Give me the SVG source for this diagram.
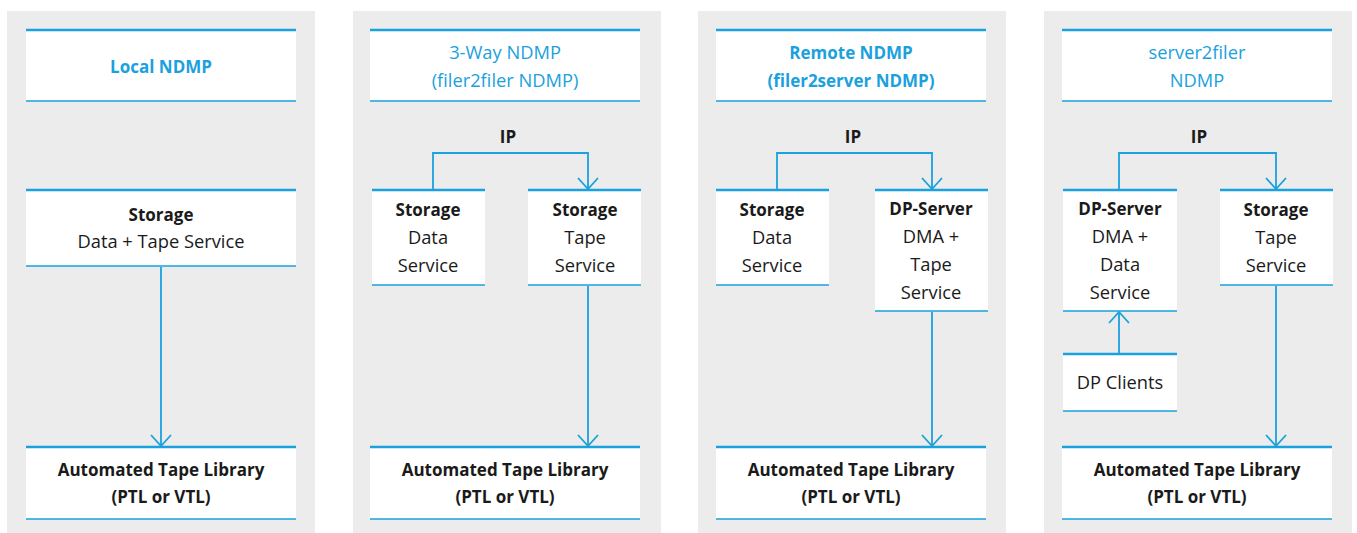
<svg xmlns="http://www.w3.org/2000/svg" width="1357" height="533" viewBox="0 0 1357 533">
<style>
.panel{fill:#ebeceb}
.box{fill:#ffffff}
.top{stroke:#1ba1dd;stroke-width:2.5}
.bot{stroke:#1ba1dd;stroke-width:1.5}
text{font-family:"Open Sans","Noto Sans","Liberation Sans",sans-serif;font-size:18.3px;text-anchor:middle;fill:#1a1a1a}
.b{font-weight:bold;font-size:17px}
.h{fill:#1ba1dd}
.conn{fill:none;stroke:#1ba1dd;stroke-width:1.8}
</style>
<defs>
<marker id="arr" viewBox="0 0 13 22" refX="12" refY="11" markerWidth="13" markerHeight="22" markerUnits="userSpaceOnUse" orient="auto-start-reverse">
<path d="M1,1 L12,11 L1,21" fill="none" stroke="#1ba1dd" stroke-width="1.8"/>
</marker>
</defs>
<rect class="panel" x="7" y="11" width="308" height="522"/>
<rect class="panel" x="353" y="11" width="308" height="522"/>
<rect class="panel" x="698" y="11" width="308" height="522"/>
<rect class="panel" x="1044" y="11" width="308" height="522"/>

<!-- Panel 1 -->
<g id="p1-header"><rect class="box" x="26" y="29" width="270" height="72"/><line class="top" x1="26" y1="30" x2="296" y2="30"/><line class="bot" x1="26" y1="101" x2="296" y2="101"/><text class="b h" x="161" y="73">Local NDMP</text></g>
<g id="p1-storage"><rect class="box" x="26" y="189" width="270" height="77"/><line class="top" x1="26" y1="190" x2="296" y2="190"/><line class="bot" x1="26" y1="266" x2="296" y2="266"/><text class="b" x="161" y="221">Storage</text><text x="161" y="248">Data + Tape Service</text></g>
<g id="p1-library"><rect class="box" x="26" y="446" width="270" height="73"/><line class="top" x1="26" y1="447" x2="296" y2="447"/><line class="bot" x1="26" y1="519" x2="296" y2="519"/><text class="b" x="161" y="476">Automated Tape Library</text><text class="b" x="161" y="503">(PTL or VTL)</text></g>

<!-- Panel 2 -->
<g id="p2-header"><rect class="box" x="370" y="29" width="270" height="72"/><line class="top" x1="370" y1="30" x2="640" y2="30"/><line class="bot" x1="370" y1="101" x2="640" y2="101"/><text class="h" x="505" y="59">3-Way NDMP</text><text class="h" x="505" y="87">(filer2filer NDMP)</text></g>
<g id="p2-ip"><text class="b" x="508" y="143">IP</text></g>
<g id="p2-storage-data"><rect class="box" x="372" y="189" width="113" height="96"/><line class="top" x1="372" y1="190" x2="485" y2="190"/><line class="bot" x1="372" y1="285" x2="485" y2="285"/><text class="b" x="428" y="216">Storage</text><text x="428" y="244">Data</text><text x="428" y="272">Service</text></g>
<g id="p2-storage-tape"><rect class="box" x="528" y="189" width="113" height="96"/><line class="top" x1="528" y1="190" x2="641" y2="190"/><line class="bot" x1="528" y1="285" x2="641" y2="285"/><text class="b" x="585" y="216">Storage</text><text x="585" y="244">Tape</text><text x="585" y="272">Service</text></g>
<g id="p2-library"><rect class="box" x="370" y="446" width="270" height="73"/><line class="top" x1="370" y1="447" x2="640" y2="447"/><line class="bot" x1="370" y1="519" x2="640" y2="519"/><text class="b" x="505" y="476">Automated Tape Library</text><text class="b" x="505" y="503">(PTL or VTL)</text></g>

<!-- Panel 3 -->
<g id="p3-header"><rect class="box" x="716" y="29" width="270" height="72"/><line class="top" x1="716" y1="30" x2="986" y2="30"/><line class="bot" x1="716" y1="101" x2="986" y2="101"/><text class="b h" x="851" y="59">Remote NDMP</text><text class="b h" x="851" y="87">(filer2server NDMP)</text></g>
<g id="p3-ip"><text class="b" x="853" y="143">IP</text></g>
<g id="p3-storage"><rect class="box" x="716" y="189" width="113" height="96"/><line class="top" x1="716" y1="190" x2="829" y2="190"/><line class="bot" x1="716" y1="285" x2="829" y2="285"/><text class="b" x="772" y="216">Storage</text><text x="772" y="244">Data</text><text x="772" y="272">Service</text></g>
<g id="p3-dpserver"><rect class="box" x="875" y="189" width="113" height="122"/><line class="top" x1="875" y1="190" x2="988" y2="190"/><line class="bot" x1="875" y1="311" x2="988" y2="311"/><text class="b" x="931" y="215">DP-Server</text><text x="931" y="243">DMA +</text><text x="931" y="271">Tape</text><text x="931" y="299">Service</text></g>
<g id="p3-library"><rect class="box" x="716" y="446" width="270" height="73"/><line class="top" x1="716" y1="447" x2="986" y2="447"/><line class="bot" x1="716" y1="519" x2="986" y2="519"/><text class="b" x="851" y="476">Automated Tape Library</text><text class="b" x="851" y="503">(PTL or VTL)</text></g>

<!-- Panel 4 -->
<g id="p4-header"><rect class="box" x="1062" y="29" width="270" height="72"/><line class="top" x1="1062" y1="30" x2="1332" y2="30"/><line class="bot" x1="1062" y1="101" x2="1332" y2="101"/><text class="h" x="1197" y="59">server2filer</text><text class="h" x="1197" y="87">NDMP</text></g>
<g id="p4-ip"><text class="b" x="1199" y="143">IP</text></g>
<g id="p4-dpserver"><rect class="box" x="1063" y="189" width="114" height="122"/><line class="top" x1="1063" y1="190" x2="1177" y2="190"/><line class="bot" x1="1063" y1="311" x2="1177" y2="311"/><text class="b" x="1120" y="215">DP-Server</text><text x="1120" y="243">DMA +</text><text x="1120" y="271">Data</text><text x="1120" y="299">Service</text></g>
<g id="p4-storage"><rect class="box" x="1220" y="189" width="113" height="96"/><line class="top" x1="1220" y1="190" x2="1333" y2="190"/><line class="bot" x1="1220" y1="285" x2="1333" y2="285"/><text class="b" x="1276" y="216">Storage</text><text x="1276" y="244">Tape</text><text x="1276" y="272">Service</text></g>
<g id="p4-dpclients"><rect class="box" x="1063" y="353" width="114" height="58"/><line class="top" x1="1063" y1="354" x2="1177" y2="354"/><line class="bot" x1="1063" y1="411" x2="1177" y2="411"/><text x="1120" y="389">DP Clients</text></g>
<g id="p4-library"><rect class="box" x="1062" y="446" width="270" height="73"/><line class="top" x1="1062" y1="447" x2="1332" y2="447"/><line class="bot" x1="1062" y1="519" x2="1332" y2="519"/><text class="b" x="1197" y="476">Automated Tape Library</text><text class="b" x="1197" y="503">(PTL or VTL)</text></g>

<g id="connectors">
<path class="conn" d="M161,267 L161,446" marker-end="url(#arr)"/>
<path class="conn" d="M433,189 L433,153 L588,153 L588,189" marker-end="url(#arr)"/>
<path class="conn" d="M588,286 L588,446" marker-end="url(#arr)"/>
<path class="conn" d="M777,189 L777,153 L932,153 L932,189" marker-end="url(#arr)"/>
<path class="conn" d="M932,312 L932,446" marker-end="url(#arr)"/>
<path class="conn" d="M1119,189 L1119,153 L1276,153 L1276,189" marker-end="url(#arr)"/>
<path class="conn" d="M1119,353 L1119,312" marker-end="url(#arr)"/>
<path class="conn" d="M1276,286 L1276,446" marker-end="url(#arr)"/>
</g>
</svg>
